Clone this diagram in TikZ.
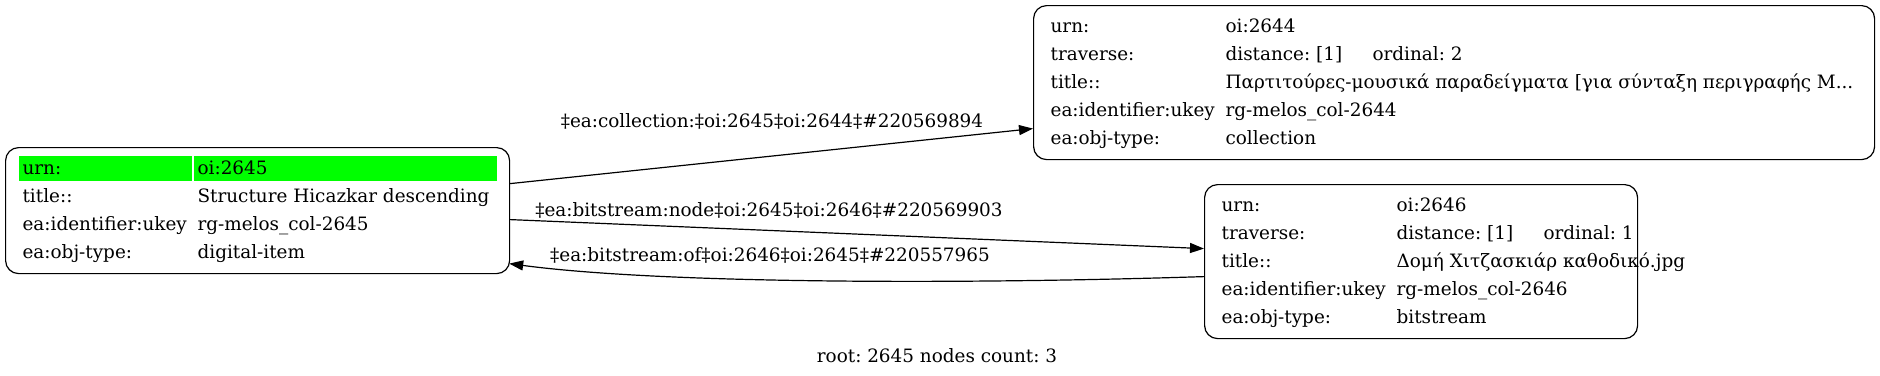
\documentclass[tikz,border=0pt]{standalone}
\usepackage{fontspec}
\setmainfont{DejaVu Serif}
\usepackage{xcolor}
\usepackage{array}
\usepackage{tikz}
\usetikzlibrary{arrows.meta,positioning,calc}
\definecolor{urngreen}{HTML}{00FF00}
\definecolor{ink}{HTML}{000000}
\frenchspacing

\newcommand{\rowfont}{\fontsize{18.4}{28}\selectfont}
\newcommand{\cellbox}[2]{\makebox[#1][l]{\hspace{4pt}#2}}
\newcommand{\greenbox}[2]{\makebox[#1][l]{\rlap{\color{urngreen}\rule[-6.9pt]{#1}{25pt}}\hspace{4pt}#2}}

\begin{document}
\begin{tikzpicture}[
    x=1pt, y=-1pt,
    >=Triangle,
    line cap=round,
    line join=round,
    record/.style={draw=ink, rounded corners=13pt, line width=1.2pt, inner xsep=13pt, inner ysep=7pt, anchor=north west, font=\rowfont, text=ink},
    edge/.style={-{Triangle[length=14pt,width=10pt]}, line width=1.2pt, draw=ink},
    edgelabel/.style={font=\rowfont, text=ink, inner sep=0pt},
    foot/.style={font=\rowfont, text=ink, inner sep=0pt}
]
\useasboundingbox (0,0) rectangle (1880,375);

% Root record
\node[record] (n2645) at (5,147) {%
\begin{tabular}{@{}l@{\hspace{2pt}}l@{}}
\greenbox{173pt}{urn:} & \greenbox{303pt}{oi:2645}\\
\cellbox{173pt}{title::} & \cellbox{303pt}{Structure Hicazkar descending}\\
\cellbox{173pt}{ea:identifier:ukey} & \cellbox{303pt}{rg-melos\_col-2645}\\
\cellbox{173pt}{ea:obj-type:} & \cellbox{303pt}{digital-item}
\end{tabular}};

% Collection record
\node[record] (n2644) at (1033,5) {%
\begin{tabular}{@{}l@{\hspace{2pt}}l@{}}
\cellbox{173pt}{urn:} & \cellbox{640pt}{oi:2644}\\
\cellbox{173pt}{traverse:} & \cellbox{640pt}{\makebox[147pt][l]{distance: [1]}ordinal: 2}\\
\cellbox{173pt}{title::} & \cellbox{640pt}{Παρτιτούρες-μουσικά παραδείγματα [για σύνταξη περιγραφής Μ...}\\
\cellbox{173pt}{ea:identifier:ukey} & \cellbox{640pt}{rg-melos\_col-2644}\\
\cellbox{173pt}{ea:obj-type:} & \cellbox{640pt}{collection}
\end{tabular}};

% Bitstream record
\node[record] (n2646) at (1204,184) {%
\begin{tabular}{@{}l@{\hspace{2pt}}l@{}}
\cellbox{173pt}{urn:} & \cellbox{232pt}{oi:2646}\\
\cellbox{173pt}{traverse:} & \cellbox{232pt}{\makebox[147pt][l]{distance: [1]}ordinal: 1}\\
\cellbox{173pt}{title::} & \cellbox{232pt}{Δομή Χιτζασκιάρ καθοδικό.jpg}\\
\cellbox{173pt}{ea:identifier:ukey} & \cellbox{232pt}{rg-melos\_col-2646}\\
\cellbox{173pt}{ea:obj-type:} & \cellbox{232pt}{bitstream}
\end{tabular}};

% Edges
\coordinate (in2645) at ([xshift=-1pt,yshift=-53pt]n2645.east);
\draw[edge] ([yshift=27pt]n2645.east) -- ([yshift=-46pt]n2644.west);
\draw[edge] ([yshift=-9pt]n2645.east) -- ([yshift=13pt]n2646.west);
\draw[edge] ([yshift=-15pt]n2646.west) .. controls +(-250,8) and +(150,20) .. (in2645);

% Edge labels
\node[edgelabel] (lcoll) at (772,121) {‡ea:collection:‡oi:2645‡oi:2644‡\#220569894};
\node[edgelabel] (lnode) at (769,210) {‡ea:bitstream:node‡oi:2645‡oi:2646‡\#220569903};
\node[edgelabel] (lof) at (770,255) {‡ea:bitstream:of‡oi:2646‡oi:2645‡\#220557965};

% Footer
\node[foot] (footer) at (937,356) {root: 2645 nodes count: 3};

\end{tikzpicture}
\end{document}
